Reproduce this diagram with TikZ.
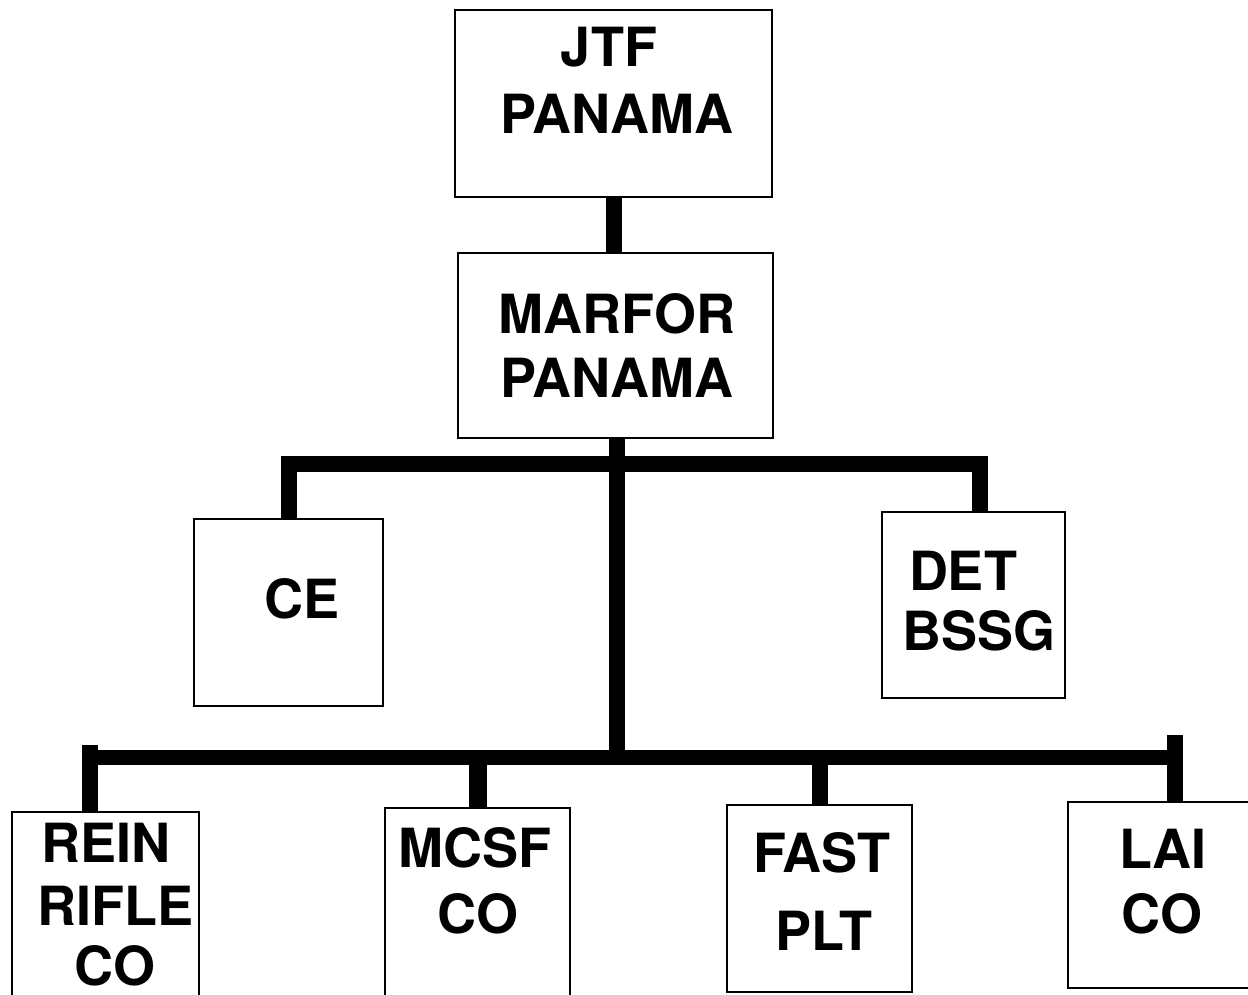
\documentclass[tikz,border=0pt]{standalone}
\usepackage{fontspec}
\setmainfont{TeX Gyre Heros}
\begin{document}
\begin{tikzpicture}[x=1pt,y=-1pt,
  box/.style={draw,line width=2pt,rectangle,inner sep=0pt,fill=white},
  lbl/.style={anchor=base,inner sep=0pt,font=\fontsize{54}{64}\selectfont\bfseries},
  bar/.style={line width=16pt,line cap=butt,line join=miter}]
\useasboundingbox[fill=white] (0,0) rectangle (1248,994);
% boxes
\node[box,minimum width=317pt,minimum height=187pt] (jtf) at (613.5,103.5) {};
\node[box,minimum width=315pt,minimum height=185pt] (marfor) at (615.5,345.5) {};
\node[box,minimum width=189pt,minimum height=187pt] (ce) at (288.5,612.5) {};
\node[box,minimum width=183pt,minimum height=186pt] (det) at (973.5,605) {};
\node[box,minimum width=187pt,minimum height=188pt] (rein) at (105.5,906) {};
\node[box,minimum width=185pt,minimum height=192pt] (mcsf) at (477.5,904) {};
\node[box,minimum width=185pt,minimum height=187pt] (fast) at (819.5,898.5) {};
\node[box,minimum width=194pt,minimum height=186pt] (lai) at (1165,895) {};
% labels
\node[lbl] (jtfA) at (609,66) {JTF};
\node[lbl] (jtfB) at (617,133) {PANAMA};
\node[lbl] (marA) at (617,333) {MARFOR};
\node[lbl] (marB) at (617,397) {PANAMA};
\node[lbl] (ceA) at (302,618) {CE};
\node[lbl] (detA) at (963,590) {DET};
\node[lbl] (detB) at (979,650) {BSSG};
\node[lbl] (reinA) at (106,862) {REIN};
\node[lbl] (reinB) at (116,925) {RIFLE};
\node[lbl] (reinC) at (115,985) {CO};
\node[lbl] (mcsfA) at (475,867) {MCSF};
\node[lbl] (mcsfB) at (478,933) {CO};
\node[lbl] (fastA) at (822,872) {FAST};
\node[lbl] (fastB) at (824,950) {PLT};
\node[lbl] (laiA) at (1163,868) {LAI};
\node[lbl] (laiB) at (1162,933) {CO};
% junction coordinates
\coordinate (ub) at (617,464);
\coordinate (lb) at (617,757);
\coordinate (dets) at ([xshift=6.5pt]det.north);
\coordinate (reins) at ([xshift=-15.5pt]rein.north);
\coordinate (lais) at ([xshift=10pt]lai.north);
\coordinate (reinTop) at (90,745);
\coordinate (laiTop) at (1175,735);
% connectors
\draw[bar] (jtf.south) -- (jtf.south |- marfor.north);
\draw[bar] (ub |- marfor.south) -- (lb);
\draw[bar] (ce.north) -- (ce.north |- ub) -- (dets |- ub) -- (dets);
\draw[bar,line width=15pt] (reins |- lb) -- (lais |- lb);
\draw[bar] (reinTop) -- (reins);
\draw[bar] (laiTop) -- (lais);
\draw[bar,line width=18pt] (mcsf.north |- lb) -- (mcsf.north);
\draw[bar] (fast.north |- lb) -- (fast.north);
\end{tikzpicture}
\end{document}
